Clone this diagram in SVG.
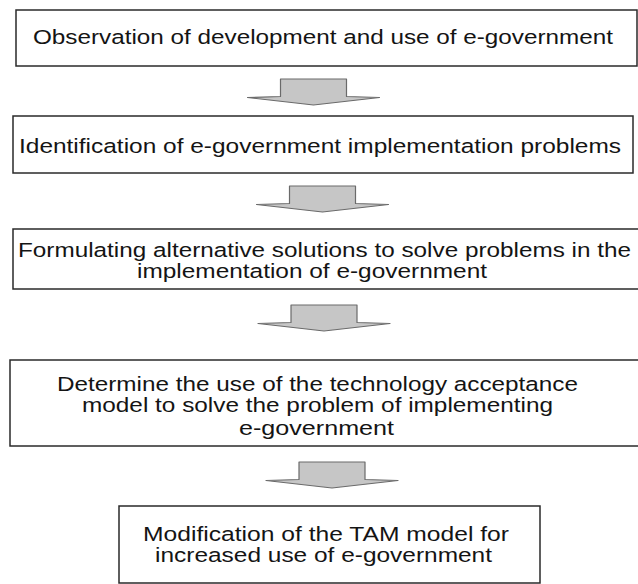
<svg xmlns="http://www.w3.org/2000/svg" width="638" height="584" viewBox="0 0 638 584">
  <style>
    .box { fill: #ffffff; stroke: #2a2a2a; stroke-width: 1.5; }
    .label { font-family: "Liberation Sans", Arial, sans-serif; font-size: 20.5px; fill: #141414; }
    .flow { fill: #c6c6c6; stroke: #6a6a6a; stroke-width: 1.2; stroke-linejoin: round; }
  </style>
  <defs>
    <!-- wide, flat block arrow; origin = centre of the top edge -->
    <path id="blockArrow" class="flow" d="M-33,0 H33 V17.5 L66,18.5 L0,26 L-66,18.5 L-33,17.5 Z"/>
  </defs>
  <rect width="638" height="584" fill="#ffffff"/>

  <g id="connectors">
    <use href="#blockArrow" transform="translate(313.5,79)"/>
    <use href="#blockArrow" transform="translate(322.5,186)"/>
    <use href="#blockArrow" transform="translate(324,305)"/>
    <use href="#blockArrow" transform="translate(332,462)"/>
  </g>

  <g id="step-observation">
    <rect class="box" x="16" y="10" width="621" height="56"/>
    <text class="label" x="33" y="44" textLength="580" lengthAdjust="spacingAndGlyphs">Observation of development and use of e-government</text>
  </g>

  <g id="step-identification">
    <rect class="box" x="13" y="116" width="620" height="57"/>
    <text class="label" x="19" y="153" textLength="602" lengthAdjust="spacingAndGlyphs">Identification of e-government implementation problems</text>
  </g>

  <g id="step-formulating">
    <rect class="box" x="13" y="229" width="630" height="60"/>
    <text class="label" x="18" y="257" textLength="613" lengthAdjust="spacingAndGlyphs">Formulating alternative solutions to solve problems in the</text>
    <text class="label" x="137" y="278" textLength="350" lengthAdjust="spacingAndGlyphs">implementation of e-government</text>
  </g>

  <g id="step-determine">
    <rect class="box" x="10" y="360" width="633" height="86"/>
    <text class="label" x="57" y="391" textLength="521" lengthAdjust="spacingAndGlyphs">Determine the use of the technology acceptance</text>
    <text class="label" x="82" y="412" textLength="471" lengthAdjust="spacingAndGlyphs">model to solve the problem of implementing</text>
    <text class="label" x="239" y="435" textLength="155" lengthAdjust="spacingAndGlyphs">e-government</text>
  </g>

  <g id="step-modification">
    <rect class="box" x="119" y="506" width="421" height="77"/>
    <text class="label" x="143" y="541" textLength="366" lengthAdjust="spacingAndGlyphs">Modification of the TAM model for</text>
    <text class="label" x="155" y="562" textLength="337" lengthAdjust="spacingAndGlyphs">increased use of e-government</text>
  </g>
</svg>
